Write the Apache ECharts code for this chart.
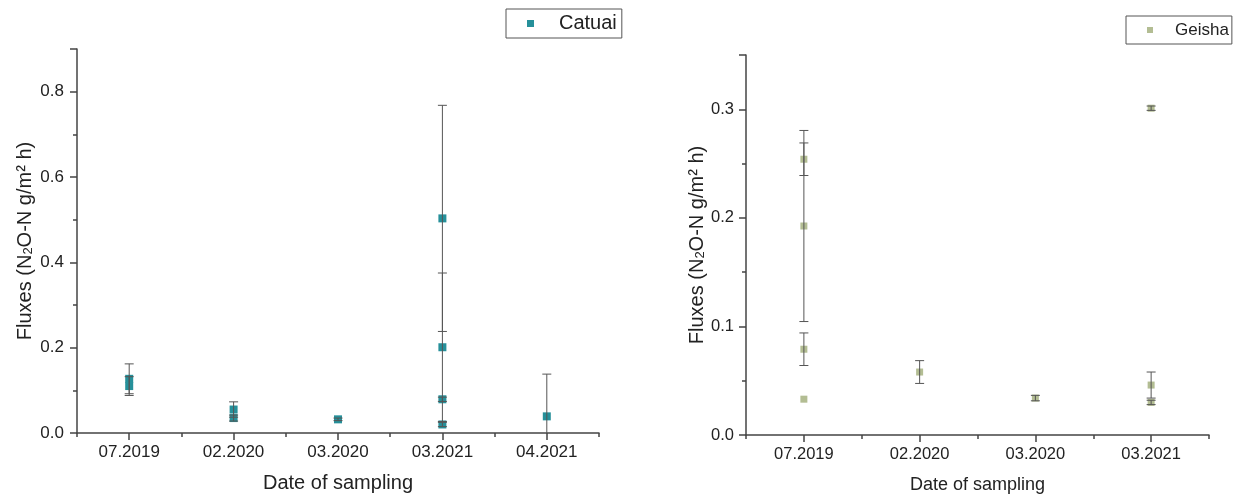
<!DOCTYPE html>
<html>
<head>
<meta charset="utf-8">
<script src="https://cdn.jsdelivr.net/npm/echarts@6/dist/echarts.min.js"></script>
<style>
  html, body { margin: 0; padding: 0; background: #fff; }
  #chart { width: 1239px; height: 499px; }
</style>
</head>
<body>
<div id="chart"></div>
<script>
///////////////////////////////////////////////////
// Used data
///////////////////////////////////////////////////

// Catuai (left panel)
var catuaiDates = ['07.2019', '02.2020', '03.2020', '03.2021', '04.2021'];
var catuaiPointDate = ['07.2019', '07.2019', '02.2020', '02.2020', '03.2020',
  '03.2021', '03.2021', '03.2021', '03.2021', '04.2021'];
var catuaiMean = [0.127, 0.110, 0.055, 0.035, 0.032, 0.503, 0.201, 0.079, 0.020, 0.039];
var catuaiErr = [0.035, 0.022, 0.018, 0.007, 0.003, 0.265, 0.174, 0.005, 0.005, 0.099];

// Geisha (right panel)
var geishaDates = ['07.2019', '02.2020', '03.2020', '03.2021'];
var geishaPointDate = ['07.2019', '07.2019', '07.2019', '07.2019', '02.2020',
  '03.2020', '03.2021', '03.2021', '03.2021'];
var geishaMean = [0.254, 0.1925, 0.079, 0.033, 0.058, 0.034, 0.301, 0.046, 0.030];
var geishaErr = [0.015, 0.088, 0.015, 0, 0.0105, 0.0025, 0.002, 0.012, 0.002];

///////////////////////////////////////////////////
// Helpers
///////////////////////////////////////////////////

var axisColor = '#444';
var textColor = '#222';
var font = '"Liberation Sans", Arial, sans-serif';

function points(dates, means) {
  return dates.map(function (d, i) { return [d, means[i]]; });
}

function bars(dates, means, errs) {
  return dates.map(function (d, i) {
    return [d, means[i], means[i] - errs[i], means[i] + errs[i]];
  });
}

// vertical error bar with caps, clipped at zero
function renderErrorBar(params, api) {
  var x = api.value(0);
  var lo = api.value(2);
  var hi = api.value(3);
  if (hi - lo <= 0) return null;
  var clipped = lo < 0;
  if (clipped) lo = 0;
  var pHi = api.coord([x, hi]);
  var pLo = api.coord([x, lo]);
  var cw = 4.5;
  var style = { stroke: '#555', lineWidth: 1 };
  var children = [
    { type: 'line', shape: { x1: pHi[0], y1: pHi[1], x2: pLo[0], y2: pLo[1] }, style: style },
    { type: 'line', shape: { x1: pHi[0] - cw, y1: pHi[1], x2: pHi[0] + cw, y2: pHi[1] }, style: style }
  ];
  if (!clipped) {
    children.push({ type: 'line', shape: { x1: pLo[0] - cw, y1: pLo[1], x2: pLo[0] + cw, y2: pLo[1] }, style: style });
  }
  return { type: 'group', children: children };
}

function catAxis(grid, cats, labelSize, nameSize, nameGap) {
  return {
    type: 'category', gridIndex: grid, data: cats, boundaryGap: true,
    name: 'Date of sampling', nameLocation: 'middle', nameGap: nameGap,
    nameTextStyle: { fontFamily: font, fontSize: nameSize, color: textColor },
    axisLine: { show: true, lineStyle: { color: axisColor, width: 1.5 } },
    axisTick: { show: true, alignWithLabel: true, interval: 0, length: 7, lineStyle: { color: axisColor, width: 1.5 } },
    axisLabel: { interval: 0, margin: 11, fontFamily: font, fontSize: labelSize, color: textColor },
    splitLine: { show: false }
  };
}

function boundaryAxis(grid, cats) {
  return {
    type: 'category', gridIndex: grid, data: cats, boundaryGap: true, position: 'bottom',
    axisLine: { show: false },
    axisTick: { show: true, interval: 0, length: 4, lineStyle: { color: axisColor, width: 1.5 } },
    axisLabel: { show: false },
    splitLine: { show: false }
  };
}

function valAxis(grid, max, interval, labelSize, gap, margin) {
  return {
    type: 'value', gridIndex: grid, min: 0, max: max, interval: interval,
    name: 'Fluxes (N{sub|2}O-N g/m² h)', nameLocation: 'middle', nameGap: gap, nameRotate: 90,
    nameTextStyle: {
      fontFamily: font, fontSize: 20, color: textColor,
      rich: { sub: { fontFamily: font, fontSize: 13, color: textColor, verticalAlign: 'bottom', padding: [7, 0, 0, 0] } }
    },
    axisLine: { show: true, lineStyle: { color: axisColor, width: 1.5 } },
    axisTick: { show: true, length: 7, lineStyle: { color: axisColor, width: 1.5 } },
    minorTick: { show: true, splitNumber: 2, length: 4, lineStyle: { color: axisColor, width: 1.5 } },
    axisLabel: {
      showMaxLabel: false, margin: margin, fontFamily: font, fontSize: labelSize, color: textColor,
      formatter: function (v) { return v.toFixed(1); }
    },
    splitLine: { show: false }
  };
}

///////////////////////////////////////////////////
// Chart
///////////////////////////////////////////////////

var chart = echarts.init(document.getElementById('chart'), null, { renderer: 'canvas' });

var option = {
  backgroundColor: '#fff',
  animation: false,
  grid: [
    { left: 77, right: 640, top: 49, bottom: 66 },
    { left: 746, right: 30, top: 55, bottom: 62 }
  ],
  xAxis: [
    catAxis(0, catuaiDates, 17, 20, 40),
    boundaryAxis(0, catuaiDates),
    catAxis(1, geishaDates, 16.5, 18, 41),
    boundaryAxis(1, geishaDates)
  ],
  yAxis: [
    valAxis(0, 0.9, 0.2, 17, 42, 13),
    valAxis(1, 0.35, 0.1, 16.5, 34, 12)
  ],
  legend: [
    {
      data: ['Catuai'], left: 506, top: 9, orient: 'vertical',
      padding: [4, 5, 4, 21], borderColor: '#555', borderWidth: 1,
      icon: 'rect', itemWidth: 7, itemHeight: 7,
      textStyle: { fontFamily: font, fontSize: 20, lineHeight: 21, color: textColor, padding: [0, 0, 0, 20] }
    },
    {
      data: ['Geisha'], left: 1126, top: 16, orient: 'vertical',
      padding: [4, 3, 4, 21], borderColor: '#555', borderWidth: 1,
      icon: 'rect', itemWidth: 6, itemHeight: 6,
      textStyle: { fontFamily: font, fontSize: 17, lineHeight: 20, color: textColor, padding: [0, 0, 0, 17] }
    }
  ],
  series: [
    {
      name: 'Catuai', type: 'scatter', xAxisIndex: 0, yAxisIndex: 0,
      symbol: 'rect', symbolSize: 8,
      itemStyle: { color: '#26909a', opacity: 1 },
      data: points(catuaiPointDate, catuaiMean), z: 2
    },
    {
      name: 'Catuai error', type: 'custom', xAxisIndex: 0, yAxisIndex: 0,
      renderItem: renderErrorBar, encode: { x: 0, y: [1, 2, 3] },
      data: bars(catuaiPointDate, catuaiMean, catuaiErr), z: 3
    },
    {
      name: 'Geisha', type: 'scatter', xAxisIndex: 2, yAxisIndex: 1,
      symbol: 'rect', symbolSize: 7,
      itemStyle: { color: '#b3bd93', opacity: 1 },
      data: points(geishaPointDate, geishaMean), z: 2
    },
    {
      name: 'Geisha error', type: 'custom', xAxisIndex: 2, yAxisIndex: 1,
      renderItem: renderErrorBar, encode: { x: 0, y: [1, 2, 3] },
      data: bars(geishaPointDate, geishaMean, geishaErr), z: 3
    }
  ]
};

chart.setOption(option);
</script>
</body>
</html>
